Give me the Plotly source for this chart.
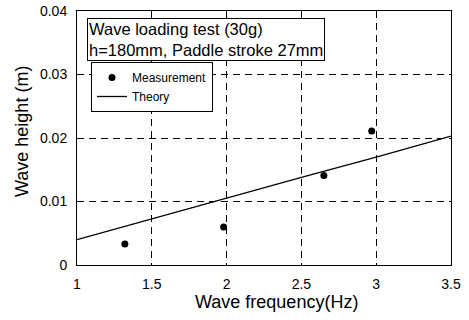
import plotly.graph_objects as go

meas_x = [1.32, 1.98, 2.65, 2.97]
meas_y = [0.0033, 0.0060, 0.0141, 0.0211]
theory_x = [1.0, 1.5, 2.0, 2.5, 3.0, 3.5]
theory_y = [0.0040, 0.0073, 0.0105, 0.0138, 0.0170, 0.0203]
x_ticks = [1, 1.5, 2, 2.5, 3, 3.5]
x_labels = ["1", "1.5", "2", "2.5", "3", "3.5"]
y_ticks = [0, 0.01, 0.02, 0.03, 0.04]
y_labels = ["0", "0.01", "0.02", "0.03", "0.04"]

fig = go.Figure()
fig.add_trace(go.Scatter(x=meas_x, y=meas_y, mode="markers", name="Measurement",
                         marker=dict(color="black", size=7)))
fig.add_trace(go.Scatter(x=theory_x, y=theory_y, mode="lines", name="Theory",
                         line=dict(color="black", width=1.3)))

W, H = 469, 320
L, R, T, B = 77, 18, 11, 55
pw, ph = W - L - R, H - T - B

def px(x):
    return (x - L) / pw

def py(y):
    return (H - B - y) / ph

fig.update_layout(
    width=W, height=H,
    margin=dict(l=L, r=R, t=T, b=B),
    paper_bgcolor="white", plot_bgcolor="white",
    font=dict(family="Liberation Sans, Arial, sans-serif", color="black"),
    showlegend=True,
    legend=dict(x=px(91), y=py(62), xanchor="left", yanchor="top",
                bgcolor="white", bordercolor="black", borderwidth=1,
                font=dict(size=12), tracegroupgap=0, itemwidth=30),
    xaxis=dict(range=[1, 3.5], tickvals=x_ticks, ticktext=x_labels,
               showgrid=True, gridcolor="black", griddash="7px,5px", gridwidth=1,
               showline=True, linecolor="black", linewidth=1, mirror=True,
               zeroline=False, ticks="", tickfont=dict(size=14),
               automargin=False, ticklabelstandoff=6),
    yaxis=dict(range=[0, 0.04], tickvals=y_ticks, ticktext=y_labels,
               showgrid=True, gridcolor="black", griddash="7px,5px", gridwidth=1,
               showline=True, linecolor="black", linewidth=1, mirror=True,
               zeroline=False, ticks="", tickfont=dict(size=14),
               automargin=False, ticklabelstandoff=6),
    annotations=[
        dict(text="Wave loading test (30g)<br>h=180mm, Paddle stroke 27mm",
             xref="paper", yref="paper", x=px(87), y=py(18), xanchor="left", yanchor="top",
             showarrow=False, align="left", font=dict(size=16.5),
             bordercolor="black", borderwidth=1, borderpad=1, bgcolor="white"),
        dict(text="Wave frequency(Hz)", xref="paper", yref="paper",
             x=px(276), y=py(302), xanchor="center", yanchor="middle",
             showarrow=False, font=dict(size=18)),
        dict(text="Wave height (m)", xref="paper", yref="paper",
             x=px(22), y=py(132), xanchor="center", yanchor="middle",
             textangle=-90, showarrow=False, font=dict(size=18)),
    ],
)

fig.write_html("out.html", config={"displayModeBar": False},
               post_script="document.body.style.margin='0';")
